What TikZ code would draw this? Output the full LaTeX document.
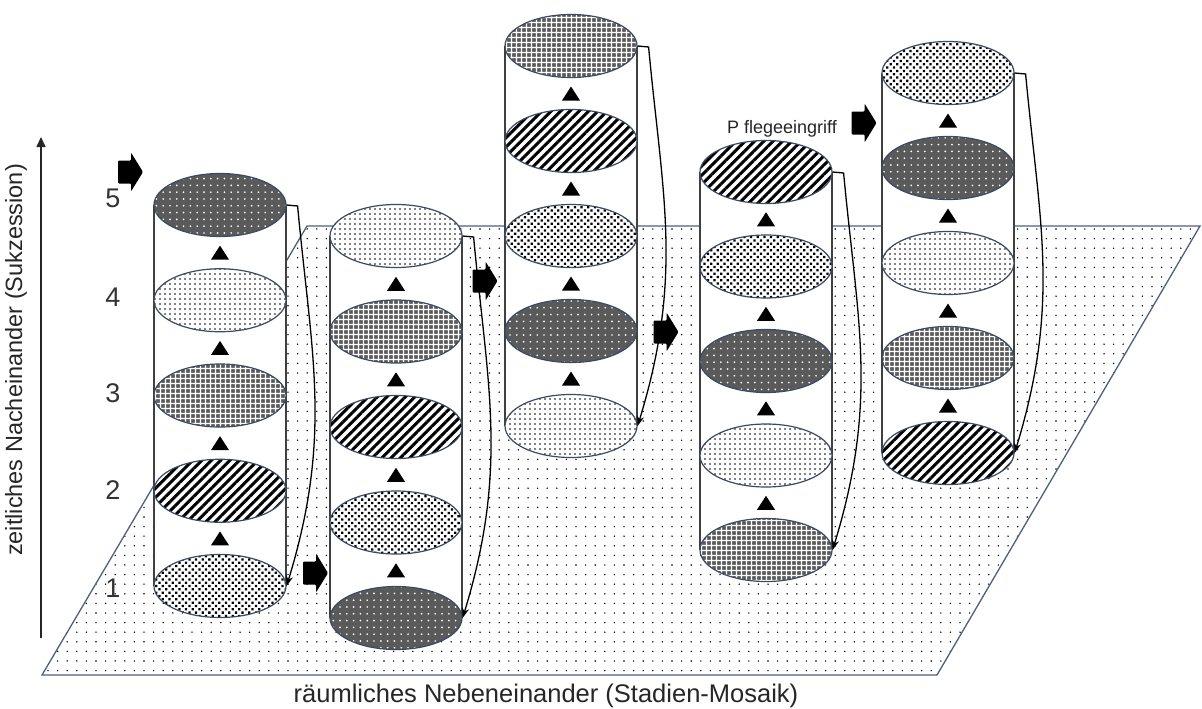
\documentclass[tikz,border=0pt]{standalone}
\usepackage{fontspec}
\setmainfont{Liberation Sans}
\usetikzlibrary{shapes.geometric,patterns.meta,arrows.meta}
\definecolor{dg}{HTML}{5A5A5A}
\definecolor{elc}{HTML}{3C4866}
\definecolor{plc}{HTML}{4F5F80}
\tikzset{
  el/.style={ellipse, draw=elc, line width=1.2pt, minimum width=132pt, minimum height=63pt, inner sep=0pt},
  pdark/.style={el, preaction={fill=dg}, pattern={Dots[distance=6.8pt,radius=0.95pt]}, pattern color=white},
  plight/.style={el, preaction={fill=white}, pattern={Dots[distance=5pt,radius=0.8pt]}, pattern color=black},
  pgrid/.style={el, preaction={fill=dg}, pattern={Hatch[distance=5.4pt,angle=0,line width=1.4pt]}, pattern color=white},
  pstripe/.style={el, preaction={fill=white}, pattern={Lines[distance=6.6pt,angle=45,line width=3pt]}, pattern color=black},
  pdense/.style={el, preaction={fill=white}, pattern={Dots[distance=4.7pt,angle=45,radius=1.6pt]}, pattern color=black},
  cyl/.style={draw=black!75, line width=1.3pt},
  carrow/.style={draw=black, line width=1.3pt, -{Stealth[length=10pt,width=7pt]}},
  num/.style={font=\fontsize{27}{30}\selectfont, text=black!80},
  lab/.style={font=\fontsize{25.5}{28}\selectfont, text=black!85},
  vlab/.style={font=\fontsize{23.5}{28}\selectfont, text=black!85}
}
\newcommand\mkcyl[9]{%
  \fill[white] (#2-66,#3) rectangle (#2+66,#3+4*#4);
  \draw[cyl] (#2-66,#3) -- (#2-66,#3+4*#4);
  \draw[cyl] (#2+66,#3) -- (#2+66,#3+4*#4);
  \node[#5] (#1a) at (#2,#3) {};
  \node[#6] (#1b) at (#2,#3+#4) {};
  \node[#7] (#1c) at (#2,#3+2*#4) {};
  \node[#8] (#1d) at (#2,#3+3*#4) {};
  \node[#9] (#1e) at (#2,#3+4*#4) {};
  \foreach \k in {0,1,2,3}{%
    \fill[black] (#2-9,#3+\k*#4+#4/2+7) -- (#2+9,#3+\k*#4+#4/2+7) -- (#2,#3+\k*#4+#4/2-7) -- cycle;}
  \draw[carrow] (#1a.east) -- ++(11,1) .. controls +(14,150) and +(46,-150) .. (#1e.east);
}
\newcommand\fatarr[3]{%
  \coordinate (#1) at (#2,#3);
  \fill[black, rounded corners=1pt] (#1) ++(-12.5,-11.5) -- ++(13,0) -- ++(0,-8) -- ++(12,19.5) -- ++(-12,19.5) -- ++(0,-8) -- ++(-13,0) -- cycle;
}
\begin{document}
\begin{tikzpicture}[x=1pt,y=-1pt]
\useasboundingbox (0,0) rectangle (1202,709);
\fill[white] (0,0) rectangle (1202,709);
% plane
\path[draw=plc, line width=1.3pt, pattern={Dots[distance=9.6pt,radius=0.8pt]}, pattern color=black]
  (42,675) -- (937,675) -- (1200,226) -- (307,226) -- cycle;
% axis
\coordinate (ax0) at (41,638);
\coordinate (ax1) at (41,137);
\draw[line width=1.6pt, black!85, -{Triangle[length=10pt,width=9pt]}] (ax0) -- (ax1);
\node[vlab, rotate=90] (yl) at (16,360) {zeitliches Nacheinander (Sukzession)};
\node[lab] (xl) at (546,696) {räumliches Nebeneinander (Stadien-Mosaik)};
% numbers
\node[num] (n5) at (113,198) {5};
\node[num] (n4) at (113,297) {4};
\node[num] (n3) at (113,393) {3};
\node[num] (n2) at (113,490) {2};
\node[num] (n1) at (113,588) {1};
% cylinders
\mkcyl{ca}{220}{205}{95.25}{pdark}{plight}{pgrid}{pstripe}{pdense}
\mkcyl{cb}{396}{236}{95.5}{plight}{pgrid}{pstripe}{pdense}{pdark}
\mkcyl{cc}{571}{46}{95}{pgrid}{pstripe}{pdense}{pdark}{plight}
\mkcyl{cd}{766}{172}{94.5}{pstripe}{pdense}{pdark}{plight}{pgrid}
\mkcyl{ce}{948}{73}{95}{pdense}{pdark}{plight}{pgrid}{pstripe}
% fat arrows
\fatarr{fa1}{130.5}{172}
\fatarr{fa2}{315.5}{573}
\fatarr{fa3}{485}{281}
\fatarr{fa4}{666}{332}
\fatarr{fa5}{864}{123}
\node[font=\fontsize{18}{20}\selectfont, text=black!85] (pf) at (782,129) {P flegeeingriff};
\end{tikzpicture}
\end{document}
